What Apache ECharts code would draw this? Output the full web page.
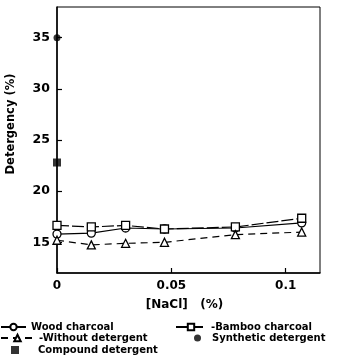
<!DOCTYPE html>
<html>
<head>
<meta charset="utf-8">
<script src="https://cdn.jsdelivr.net/npm/echarts@6/dist/echarts.min.js"></script>
<style>
  html, body { margin: 0; padding: 0; background: #fff; }
  #chart { width: 344px; height: 358px; }
</style>
</head>
<body>
<div id="chart"></div>
<script>
// NaCl concentration (%) at which detergency was measured
const nacl = [0, 0.015, 0.03, 0.047, 0.078, 0.107];

// Detergency (%) for each washing condition
const woodCharcoal = [15.8, 15.9, 16.4, 16.3, 16.4, 16.9];
const bambooCharcoal = [16.65, 16.5, 16.65, 16.3, 16.5, 17.35];
const withoutDetergent = [15.2, 14.75, 14.9, 15.0, 15.75, 16.0];
const syntheticDetergent = [[0, 35]];
const compoundDetergent = [[0, 22.8]];

// Axis ticks
const yTicks = [15, 20, 25, 30, 35];
const xTicks = [0, 0.05, 0.1];

const pair = (xs, ys) => xs.map((x, i) => [x, ys[i]]);
const FONT = '"DejaVu Sans", sans-serif';

const chart = echarts.init(document.getElementById('chart'), null, { renderer: 'canvas' });

// one legend block per entry so the two-column layout can be placed freely
const legendBox = (name, left, top, iconWidth, textPad) => ({
  data: [name], left, top, orient: 'horizontal',
  itemWidth: iconWidth, itemHeight: 8, padding: 0, selectedMode: false,
  textStyle: {
    fontFamily: FONT, fontWeight: 'bold', fontSize: 10, color: '#000',
    padding: [0, 0, 0, textPad]
  }
});

chart.setOption({
  animation: false,
  backgroundColor: '#fff',
  grid: { left: 57, right: 24, top: 7, bottom: 85, show: true, borderColor: '#000', borderWidth: 1 },
  graphic: [{
    type: 'text', x: 11, y: 124, rotation: Math.PI / 2,
    style: {
      text: 'Detergency (%)', fontFamily: FONT, fontWeight: 'bold', fontSize: 11.5,
      fill: '#000', align: 'center', verticalAlign: 'middle'
    }
  }],
  legend: [
    legendBox('Wood charcoal', 0, 322, 25, 0),
    legendBox('-Without detergent', 0, 333, 33, 0),
    legendBox('Compound detergent', 11, 345, 8, 14),
    legendBox('-Bamboo charcoal', 175, 322, 30, 0),
    legendBox('Synthetic detergent', 194, 333, 7, 6)
  ],
  xAxis: {
    type: 'value', min: 0, max: 0.115,
    name: '[NaCl]   (%)', nameLocation: 'middle', nameGap: 26,
    nameTextStyle: { fontFamily: FONT, fontWeight: 'bold', fontSize: 12, color: '#000', padding: [0, 8, 0, 0] },
    axisLine: { lineStyle: { color: '#000', width: 1.5 } },
    axisTick: { inside: true, length: 5, customValues: xTicks, lineStyle: { color: '#000', width: 1.2 } },
    axisLabel: {
      customValues: xTicks, margin: 7,
      fontFamily: FONT, fontWeight: 'bold', fontSize: 12, color: '#000',
      formatter: v => String(v)
    },
    splitLine: { show: false }
  },
  yAxis: {
    type: 'value', min: 12, max: 38,
    axisLine: { lineStyle: { color: '#000', width: 1.5 } },
    axisTick: { inside: true, length: 5, customValues: yTicks, lineStyle: { color: '#000', width: 1.2 } },
    axisLabel: {
      customValues: yTicks, margin: 7,
      fontFamily: FONT, fontWeight: 'bold', fontSize: 12.5, color: '#000'
    },
    splitLine: { show: false }
  },
  series: [
    {
      name: 'Wood charcoal', type: 'line', data: pair(nacl, woodCharcoal),
      symbol: 'circle', symbolSize: 8, clip: false,
      lineStyle: { color: '#000', width: 1.2, type: 'solid' },
      itemStyle: { color: '#fff', borderColor: '#000', borderWidth: 1.3 }
    },
    {
      name: '-Bamboo charcoal', type: 'line', data: pair(nacl, bambooCharcoal),
      symbol: 'rect', symbolSize: 8, clip: false,
      lineStyle: { color: '#000', width: 1.2, type: [12, 3] },
      itemStyle: { color: '#fff', borderColor: '#000', borderWidth: 1.3 }
    },
    {
      name: '-Without detergent', type: 'line', data: pair(nacl, withoutDetergent),
      symbol: 'triangle', symbolSize: 8, clip: false,
      lineStyle: { color: '#000', width: 1.2, type: [7, 5] },
      itemStyle: { color: '#fff', borderColor: '#000', borderWidth: 1.3 }
    },
    {
      name: 'Synthetic detergent', type: 'scatter', data: syntheticDetergent,
      symbol: 'circle', symbolSize: 7, clip: false,
      itemStyle: { color: '#000' }
    },
    {
      name: 'Compound detergent', type: 'scatter', data: compoundDetergent,
      symbol: 'rect', symbolSize: 8, clip: false,
      itemStyle: { color: '#000' }
    }
  ]
});
</script>
</body>
</html>
